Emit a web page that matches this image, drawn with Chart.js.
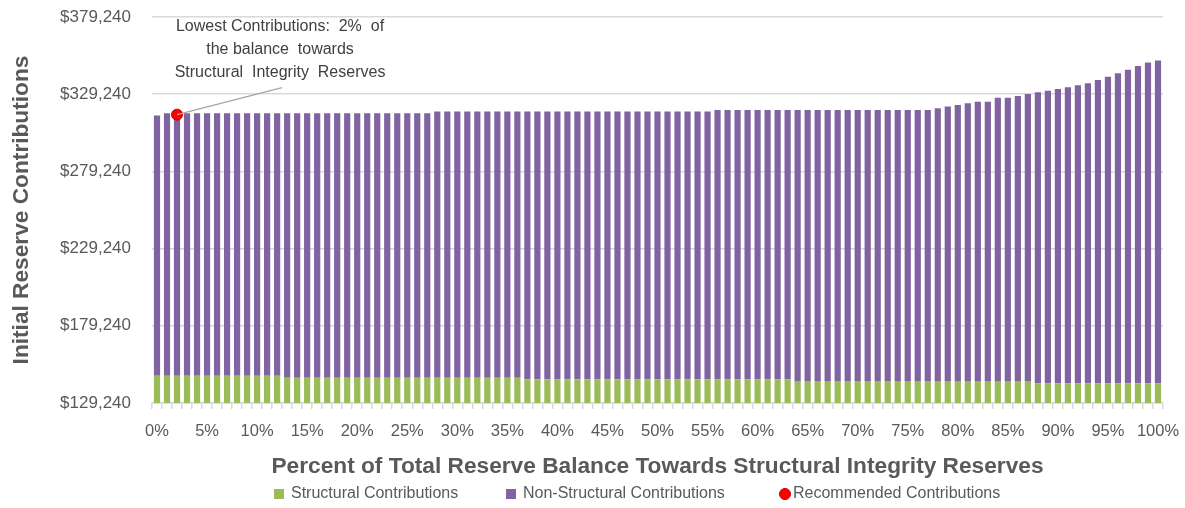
<!DOCTYPE html>
<html>
<head>
<meta charset="utf-8">
<script src="https://cdn.jsdelivr.net/npm/chart.js@4/dist/chart.umd.min.js"></script>
<style>
  html, body { margin: 0; padding: 0; background: #fff; }
  #wrap { width: 1185px; height: 508px; }
</style>
</head>
<body>
<div id="wrap"><canvas id="reserves"></canvas></div>
<script>
const categories = [
    '0%', '1%', '2%', '3%', '4%', '5%', '6%', '7%', '8%', '9%',
    '10%', '11%', '12%', '13%', '14%', '15%', '16%', '17%', '18%', '19%',
    '20%', '21%', '22%', '23%', '24%', '25%', '26%', '27%', '28%', '29%',
    '30%', '31%', '32%', '33%', '34%', '35%', '36%', '37%', '38%', '39%',
    '40%', '41%', '42%', '43%', '44%', '45%', '46%', '47%', '48%', '49%',
    '50%', '51%', '52%', '53%', '54%', '55%', '56%', '57%', '58%', '59%',
    '60%', '61%', '62%', '63%', '64%', '65%', '66%', '67%', '68%', '69%',
    '70%', '71%', '72%', '73%', '74%', '75%', '76%', '77%', '78%', '79%',
    '80%', '81%', '82%', '83%', '84%', '85%', '86%', '87%', '88%', '89%',
    '90%', '91%', '92%', '93%', '94%', '95%', '96%', '97%', '98%', '99%',
    '100%'
];

const structural = [
    146900, 146900, 146900, 146900, 146900, 146900, 146900, 146900, 146900, 146900,
    146900, 146900, 146900, 145600, 145600, 145600, 145600, 145600, 145600, 145600,
    145600, 145600, 145600, 145600, 145600, 145600, 145600, 145600, 145600, 145600,
    145600, 145600, 145600, 145600, 145600, 145600, 145600, 144600, 144600, 144600,
    144600, 144600, 144600, 144600, 144600, 144600, 144600, 144600, 144600, 144600,
    144600, 144600, 144600, 144600, 144600, 144600, 144600, 144600, 144600, 144600,
    144600, 144600, 144600, 144600, 143500, 143500, 143500, 143500, 143500, 143500,
    143500, 143500, 143500, 143500, 143500, 143500, 143500, 143500, 143500, 143500,
    143500, 143500, 143500, 143500, 143500, 143500, 143500, 143500, 142000, 142000,
    142000, 142000, 142000, 142000, 142000, 142000, 142000, 142000, 142000, 142000,
    142000
];

const nonStructural = [
    168550, 170000, 169800, 170000, 170000, 170000, 170000, 170000, 170000, 170000,
    170000, 170000, 170000, 171300, 171300, 171300, 171300, 171300, 171300, 171300,
    171300, 171300, 171300, 171300, 171300, 171300, 171300, 171300, 172400, 172400,
    172400, 172400, 172400, 172400, 172400, 172400, 172400, 173400, 173400, 173400,
    173400, 173400, 173400, 173400, 173400, 173400, 173400, 173400, 173400, 173400,
    173400, 173400, 173400, 173400, 173400, 173400, 174400, 174400, 174400, 174400,
    174400, 174400, 174400, 174400, 175500, 175500, 175500, 175500, 175500, 175500,
    175500, 175500, 175500, 175500, 175500, 175500, 175500, 175500, 176600, 177700,
    178800, 179900, 180900, 180900, 183500, 183500, 184600, 185900, 188500, 189500,
    190600, 191700, 193000, 194300, 196500, 198600, 200800, 203100, 205500, 207700,
    209000
];

// recommended point: only at 2%
const recommendedIndex = 2;
const recommendedValue = 316000;

const yTicks = [129240, 179240, 229240, 279240, 329240, 379240];

const noteLines = ['Lowest Contributions:  2%  of', 'the balance  towards', 'Structural  Integrity  Reserves'];

const font = "'Liberation Sans', Arial, sans-serif";
const grey = '#595959';

const recommended = categories.map((c, i) => i === recommendedIndex ? recommendedValue : null);

const notePlugin = {
    id: 'note',
    afterDatasetsDraw(chart) {
        const meta = chart.getDatasetMeta(2);
        const pt = meta.data[recommendedIndex];
        if (!pt) return;
        const ctx = chart.ctx;
        const cx = pt.x + 103;
        ctx.save();
        ctx.strokeStyle = '#a6a6a6';
        ctx.lineWidth = 1.5;
        ctx.beginPath();
        ctx.moveTo(pt.x, pt.y);
        ctx.lineTo(cx + 2, pt.y - 27);
        ctx.stroke();
        ctx.fillStyle = '#404040';
        ctx.font = '16px ' + font;
        ctx.textAlign = 'center';
        ctx.textBaseline = 'middle';
        noteLines.forEach((line, i) => {
            ctx.fillText(line, cx, pt.y - 88 + i * 23);
        });
        ctx.restore();
    }
};

// legend drawn by hand so the items sit where the original has them
const legendPlugin = {
    id: 'hand-legend',
    afterDraw(chart) {
        const ctx = chart.ctx;
        const y = 494;
        const items = [
            { x: 274, ds: chart.data.datasets[0], shape: 'rect' },
            { x: 506, ds: chart.data.datasets[1], shape: 'rect' },
            { x: 779, ds: chart.data.datasets[2], shape: 'circle' }
        ];
        ctx.save();
        ctx.font = '16px ' + font;
        ctx.textBaseline = 'middle';
        ctx.textAlign = 'left';
        items.forEach(it => {
            if (it.shape === 'rect') {
                ctx.fillStyle = it.ds.backgroundColor;
                ctx.fillRect(it.x, y - 5, 10, 10);
            } else {
                ctx.fillStyle = it.ds.pointBackgroundColor;
                ctx.strokeStyle = it.ds.pointBorderColor;
                ctx.lineWidth = 1;
                ctx.beginPath();
                ctx.arc(it.x + 6, y, 5.5, 0, Math.PI * 2);
                ctx.fill();
                ctx.stroke();
            }
            ctx.fillStyle = grey;
            ctx.fillText(it.ds.label, it.x + (it.shape === 'rect' ? 17 : 14), y);
        });
        ctx.restore();
    }
};

const ctx = document.getElementById('reserves');
const chart = new Chart(ctx, {
    type: 'bar',
    data: {
        labels: categories,
        datasets: [
            {
                label: 'Structural Contributions',
                data: structural,
                backgroundColor: '#9bbb59',
                stack: 'total',
                categoryPercentage: 1,
                barPercentage: 0.62
            },
            {
                label: 'Non-Structural Contributions',
                data: nonStructural,
                backgroundColor: '#8064a2',
                stack: 'total',
                categoryPercentage: 1,
                barPercentage: 0.62
            },
            {
                type: 'line',
                label: 'Recommended Contributions',
                data: recommended,
                stack: 'rec',
                showLine: false,
                pointStyle: 'circle',
                pointRadius: 5.5,
                pointBackgroundColor: '#ff0000',
                pointBorderColor: '#c00000',
                pointBorderWidth: 1,
                backgroundColor: '#ff0000',
                borderColor: '#c00000',
                order: -1
            }
        ]
    },
    options: {
        responsive: true,
        maintainAspectRatio: false,
        animation: false,
        layout: { padding: { top: 17, right: 22, left: 0, bottom: 28 } },
        plugins: {
            legend: { display: false },
            tooltip: { enabled: false }
        },
        scales: {
            x: {
                stacked: true,
                afterFit: (s) => { s.height = 77; s.paddingRight = 0; s.paddingLeft = 0; },
                grid: { drawOnChartArea: false, color: '#d9d9d9', tickLength: 6, lineWidth: 1.5 },
                border: { color: '#d9d9d9', width: 1.5 },
                ticks: {
                    autoSkip: false,
                    maxRotation: 0,
                    color: grey,
                    font: { family: font, size: 16.5 },
                    padding: 13,
                    callback: function (v, i) { return i % 5 === 0 ? this.getLabelForValue(v) : ''; }
                },
                title: {
                    display: true,
                    text: 'Percent of Total Reserve Balance Towards Structural Integrity Reserves',
                    color: grey,
                    font: { family: font, size: 22.7, weight: 'bold' },
                    padding: { top: 8, bottom: 0 }
                }
            },
            y: {
                stacked: true,
                min: yTicks[0],
                max: yTicks[yTicks.length - 1],
                afterBuildTicks: (scale) => { scale.ticks = yTicks.map(v => ({ value: v })); },
                afterFit: (s) => { s.width = 152; s.paddingTop = 0; s.paddingBottom = 0; },
                grid: { color: '#d9d9d9', lineWidth: 1.5, drawTicks: false },
                border: { display: false },
                ticks: {
                    color: grey,
                    padding: 21,
                    font: { family: font, size: 17 },
                    callback: (v) => '$' + v.toLocaleString('en-US')
                },
                title: {
                    display: true,
                    text: 'Initial Reserve Contributions',
                    color: grey,
                    font: { family: font, size: 22.7, weight: 'bold' },
                    padding: { top: 8, bottom: 0 }
                }
            }
        }
    },
    plugins: [notePlugin, legendPlugin]
});
</script>
</body>
</html>
